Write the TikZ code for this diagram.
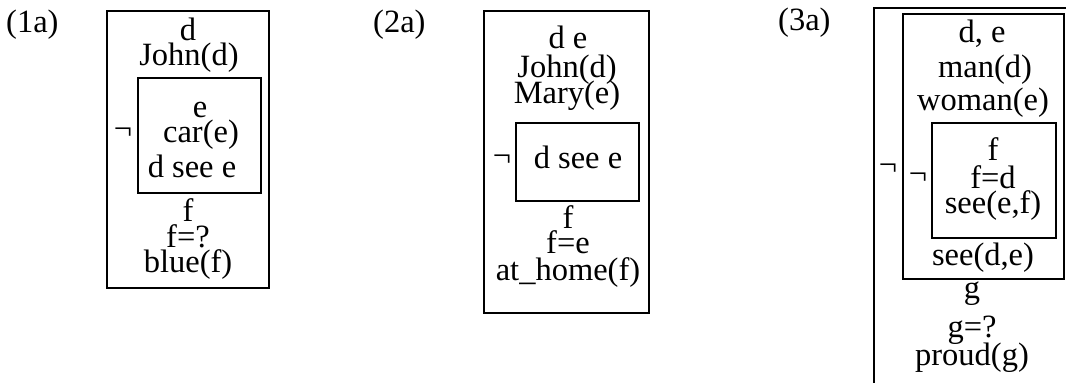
\documentclass[tikz,border=0pt]{standalone}
\usepackage{fontspec}
\setmainfont{Liberation Serif}
\begin{document}
\begin{tikzpicture}[x=1pt,y=-1pt,
  txt/.style={anchor=base, inner sep=0pt, font=\fontsize{32.5}{32.5}\selectfont},
  neg/.style={anchor=center, inner sep=0pt, font=\fontsize{32.5}{32.5}\selectfont},
  box/.style={draw=black, line width=2pt}]
\useasboundingbox (0,0) rectangle (1066,383);
% (1a)
\node[txt, anchor=base west] (l1) at (6,32) {(1a)};
\draw[box] (107,11) rectangle (269,288);
\draw[box] (138,78) rectangle (261,193);
\node[txt] (a1) at (188,40) {d};
\node[txt] (a2) at (189,65) {John(d)};
\node[neg] (an) at (123,134) {¬};
\node[txt] (a3) at (200,117) {e};
\node[txt] (a4) at (201,142) {car(e)};
\node[txt] (a5) at (192,177) {d see e};
\node[txt] (a6) at (188,221) {f};
\node[txt] (a7) at (188,247) {f=?};
\node[txt] (a8) at (188,272) {blue(f)};
% (2a)
\node[txt, anchor=base west] (l2) at (373,32) {(2a)};
\draw[box] (484,11) rectangle (649,313);
\draw[box] (516,123) rectangle (639,201);
\node[txt] (b1) at (568,48) {d e};
\node[txt] (b2) at (567,77) {John(d)};
\node[txt] (b3) at (567,103) {Mary(e)};
\node[neg] (bn) at (502,161) {¬};
\node[txt] (b4) at (578,168) {d see e};
\node[txt] (b5) at (568,228) {f};
\node[txt] (b6) at (568,253) {f=e};
\node[txt] (b7) at (568,280) {at\_home(f)};
% (3a)
\node[txt, anchor=base west] (l3) at (778,30) {(3a)};
\draw[box] (874,395) -- (874,8) -- (1075,8);
\draw[box] (903,14) rectangle (1064,279);
\draw[box] (932,123) rectangle (1056,238);
\node[txt] (c1) at (982,42) {d, e};
\node[txt] (c2) at (985,77) {man(d)};
\node[txt] (c3) at (983,110) {woman(e)};
\node[neg] (cn1) at (888,170) {¬};
\node[neg] (cn2) at (918,179) {¬};
\node[txt] (c4) at (993,160) {f};
\node[txt] (c5) at (993,188) {f=d};
\node[txt] (c6) at (993,213) {see(e,f)};
\node[txt] (c7) at (983,265) {see(d,e)};
\node[txt] (c8) at (972,298) {g};
\node[txt] (c9) at (972,337) {g=?};
\node[txt] (c10) at (972,365) {proud(g)};
\end{tikzpicture}
\end{document}
